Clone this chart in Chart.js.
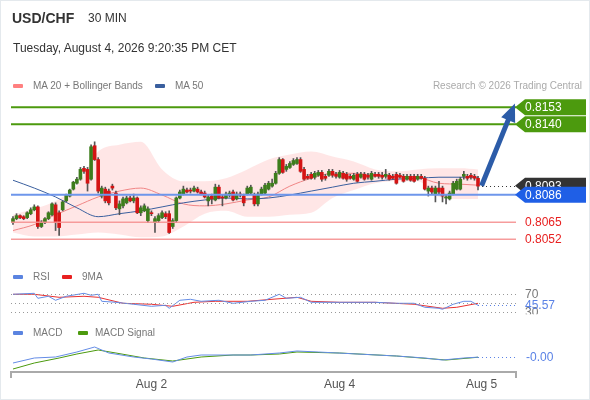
<!DOCTYPE html>
<html>
<head>
<meta charset="utf-8">
<script src="https://cdn.jsdelivr.net/npm/chart.js@4.4.1/dist/chart.umd.min.js"></script>
<style>
html, body { margin: 0; padding: 0; background: #fff; }
#wrap { position: relative; width: 590px; height: 400px; overflow: hidden; font-family: 'Liberation Sans', Arial, sans-serif; }
#frame { position: absolute; left: 0; top: 0; width: 588px; height: 398px; border: 1px solid #e4e9ed; }
canvas { position: absolute; left: 0; top: 0; }
.t { position: absolute; white-space: nowrap; }
.sw { position: absolute; width: 10px; height: 4px; border-radius: 1px; }
</style>
</head>
<body>
<div id="wrap">
  <div id="frame"></div>
  <canvas id="chart" width="590" height="400"></canvas>
  <div class="t" style="left:12px;top:10px;font-weight:bold;font-size:14px;color:#333">USD/CHF</div>
  <div class="t" style="left:88px;top:11px;font-size:12px;color:#333">30 MIN</div>
  <div class="t" style="left:13px;top:41px;font-size:12px;color:#333">Tuesday, August 4, 2026 9:20:35 PM CET</div>

  <div class="sw" style="left:13px;top:84px;background:#ff8080"></div>
  <div class="t" style="left:33px;top:80px;font-size:10px;color:#777">MA 20 + Bollinger Bands</div>
  <div class="sw" style="left:155px;top:84px;background:#3a5f9e"></div>
  <div class="t" style="left:175px;top:80px;font-size:10px;color:#777">MA 50</div>
  <div class="t" style="right:8px;top:80px;font-size:10px;color:#aaa">Research © 2026 Trading Central</div>

  <div class="sw" style="left:13px;top:275px;background:#5b84e0"></div>
  <div class="t" style="left:33px;top:271px;font-size:10px;color:#777">RSI</div>
  <div class="sw" style="left:62px;top:275px;background:#e82020"></div>
  <div class="t" style="left:82px;top:271px;font-size:10px;color:#777">9MA</div>

  <div class="sw" style="left:13px;top:331px;background:#5b84e0"></div>
  <div class="t" style="left:33px;top:327px;font-size:10px;color:#777">MACD</div>
  <div class="sw" style="left:78px;top:331px;background:#4c9a0e"></div>
  <div class="t" style="left:95px;top:327px;font-size:10px;color:#777">MACD Signal</div>
</div>
<script>
// 30 min candles, left to right
const candleOpen = [
  0.80648,0.80678,0.80701,0.80693,0.80686,0.80716,0.80746,0.80768,0.80618,0.80648,
  0.80678,0.80708,0.80784,0.80723,0.80746,0.80814,0.80851,0.80904,0.80949,0.80980,
  0.81063,0.81055,0.80980,0.81236,0.81130,0.80851,0.80904,0.80889,0.80927,0.80874,
  0.80753,0.80776,0.80799,0.80836,0.80814,0.80836,0.80723,0.80738,0.80663,0.80723,
  0.80648,0.80663,0.80686,0.80716,0.80716,0.80618,0.80663,0.80836,0.80866,0.80897,
  0.80897,0.80889,0.80904,0.80882,0.80874,0.80814,0.80851,0.80821,0.80919,0.80844,
  0.80836,0.80859,0.80882,0.80829,0.80866,0.80851,0.80866,0.80874,0.80859,0.80791,
  0.80866,0.80874,0.80904,0.80927,0.80949,0.81025,0.81130,0.81055,0.81070,0.81093,
  0.81100,0.81130,0.81055,0.81002,0.81017,0.80995,0.81010,0.81032,0.81002,0.81010,
  0.81040,0.81017,0.80995,0.81025,0.81017,0.81002,0.80980,0.81017,0.80995,0.81017,
  0.81010,0.80980,0.81017,0.81017,0.81010,0.81002,0.81010,0.81002,0.81017,0.81010,
  0.81002,0.80980,0.81002,0.81002,0.80980,0.81002,0.80987,0.80889,0.80912,0.80866,
  0.80912,0.80912,0.80836,0.80829,0.80866,0.80904,0.80904,0.81002,0.81002,0.81010,
  0.81002,0.80987
];
const candleHigh = [
  0.80693,0.80716,0.80708,0.80701,0.80731,0.80761,0.80784,0.80776,0.80663,0.80686,
  0.80731,0.80799,0.80799,0.80738,0.80814,0.80866,0.80904,0.80964,0.80995,0.81070,
  0.81078,0.81070,0.81243,0.81266,0.81145,0.80927,0.80919,0.80904,0.80942,0.80889,
  0.80814,0.80844,0.80851,0.80851,0.80866,0.80844,0.80776,0.80791,0.80768,0.80738,
  0.80693,0.80716,0.80738,0.80731,0.80738,0.80678,0.80844,0.80897,0.80927,0.80912,
  0.80912,0.80927,0.80919,0.80897,0.80889,0.80859,0.80866,0.80942,0.80934,0.80859,
  0.80882,0.80889,0.80897,0.80882,0.80882,0.80866,0.80927,0.80934,0.80874,0.80882,
  0.80919,0.80949,0.80964,0.80980,0.81040,0.81145,0.81138,0.81093,0.81115,0.81138,
  0.81145,0.81145,0.81070,0.81017,0.81032,0.81040,0.81047,0.81047,0.81017,0.81055,
  0.81055,0.81032,0.81047,0.81040,0.81032,0.81017,0.81025,0.81032,0.81032,0.81032,
  0.81025,0.81040,0.81032,0.81032,0.81032,0.81055,0.81025,0.81017,0.81032,0.81025,
  0.81017,0.81017,0.81017,0.81017,0.81017,0.81017,0.81002,0.80927,0.80927,0.80927,
  0.80964,0.80927,0.80859,0.80889,0.80964,0.80980,0.80995,0.81040,0.81017,0.81025,
  0.81017,0.81002
];
const candleLow = [
  0.80633,0.80670,0.80678,0.80670,0.80678,0.80708,0.80738,0.80603,0.80610,0.80640,
  0.80670,0.80701,0.80587,0.80550,0.80738,0.80806,0.80844,0.80897,0.80942,0.80972,
  0.81025,0.80889,0.80972,0.81123,0.80874,0.80836,0.80799,0.80784,0.80897,0.80746,
  0.80708,0.80761,0.80791,0.80806,0.80799,0.80716,0.80701,0.80731,0.80648,0.80701,
  0.80572,0.80648,0.80678,0.80678,0.80565,0.80603,0.80648,0.80829,0.80859,0.80874,
  0.80874,0.80882,0.80874,0.80859,0.80836,0.80776,0.80791,0.80814,0.80829,0.80776,
  0.80829,0.80844,0.80814,0.80821,0.80844,0.80776,0.80859,0.80866,0.80776,0.80776,
  0.80859,0.80866,0.80897,0.80919,0.80942,0.81017,0.81025,0.81040,0.81063,0.81085,
  0.81093,0.81032,0.80972,0.80980,0.80980,0.80980,0.81002,0.80964,0.80972,0.81002,
  0.80995,0.80987,0.80987,0.80980,0.80964,0.80980,0.80972,0.80957,0.80987,0.80972,
  0.80980,0.80972,0.80995,0.80987,0.80980,0.80987,0.80972,0.80980,0.80942,0.80987,
  0.80957,0.80972,0.80964,0.80957,0.80972,0.80980,0.80897,0.80851,0.80866,0.80806,
  0.80866,0.80806,0.80791,0.80821,0.80859,0.80897,0.80897,0.80980,0.80972,0.80980,
  0.80972,0.80897
];
const candleClose = [
  0.80678,0.80701,0.80686,0.80678,0.80723,0.80746,0.80768,0.80618,0.80648,0.80678,
  0.80723,0.80791,0.80648,0.80610,0.80806,0.80859,0.80897,0.80957,0.80980,0.81055,
  0.81040,0.80949,0.81228,0.81130,0.80889,0.80912,0.80814,0.80799,0.80912,0.80761,
  0.80791,0.80829,0.80836,0.80814,0.80836,0.80723,0.80761,0.80776,0.80753,0.80716,
  0.80678,0.80701,0.80723,0.80693,0.80572,0.80663,0.80836,0.80882,0.80904,0.80882,
  0.80889,0.80912,0.80882,0.80866,0.80844,0.80844,0.80829,0.80919,0.80836,0.80836,
  0.80866,0.80874,0.80821,0.80866,0.80859,0.80799,0.80912,0.80919,0.80791,0.80866,
  0.80904,0.80934,0.80949,0.80949,0.81025,0.81130,0.81032,0.81078,0.81100,0.81123,
  0.81130,0.81040,0.80980,0.80987,0.80987,0.81025,0.81032,0.80980,0.80987,0.81040,
  0.81010,0.81002,0.81032,0.80987,0.80980,0.80987,0.81010,0.80964,0.81017,0.80980,
  0.80995,0.81025,0.81002,0.81002,0.80995,0.81017,0.80980,0.80987,0.80949,0.80995,
  0.80964,0.81002,0.80972,0.80964,0.81002,0.80987,0.80904,0.80912,0.80882,0.80912,
  0.80882,0.80851,0.80844,0.80874,0.80949,0.80964,0.80980,0.81017,0.80987,0.80995,
  0.80987,0.80927
];

// moving averages and Bollinger bands, read at these candle indices
const maX     = [0,6,12,18,24,30,36,42,48,54,60,66,72,78,84,90,96,102,108,114,120,126,131];
const ma50    = [0.80972,0.80912,0.80844,0.80761,0.80693,0.80716,0.80738,0.80768,0.80799,0.80821,0.80836,0.80829,0.80836,0.80859,0.80889,0.80919,0.80949,0.80964,0.80980,0.80987,0.80995,0.80995,0.80995];
const ma20    = [0.80587,0.80633,0.80708,0.80776,0.80844,0.80889,0.80912,0.80859,0.80791,0.80776,0.80791,0.80821,0.80844,0.80927,0.80987,0.81025,0.81025,0.81010,0.81002,0.80995,0.80949,0.80942,0.80934];
const bbUpper = [0.80708,0.80753,0.80814,0.80927,0.81191,0.81243,0.81266,0.81055,0.80964,0.80964,0.80987,0.81055,0.81130,0.81168,0.81191,0.81153,0.81115,0.81055,0.81040,0.81055,0.81063,0.81063,0.81055];
const bbLower = [0.80572,0.80542,0.80542,0.80557,0.80572,0.80557,0.80535,0.80542,0.80618,0.80716,0.80738,0.80693,0.80693,0.80708,0.80723,0.80836,0.80897,0.80949,0.80964,0.80964,0.80844,0.80829,0.80829];

// RSI with its 9 period average
const rsiX   = [0,6,7,10,12,15,20,22,24,25,29,34,39,43,44,47,50,53,58,62,67,71,75,77,81,84,92,97,102,108,113,116,120,121,124,127,129,131];
const rsiVal = [70,72.2,61.1,65.6,56.7,65.6,72.2,67.8,70,54.4,52.2,47.8,43.3,45.6,38.9,56.7,58.9,54.4,56.7,50,54.4,56.7,70,61.1,63.3,52.2,52.2,52.2,52.2,50,50,41.1,38.9,36.7,47.8,54.4,54.4,45.57];
const rsiMaX = [0,6,13,20,24,31,39,45,51,57,66,80,84,92,102,113,121,125,131];
const rsiMa  = [70,70,63.3,65.6,63.3,50,47.8,43.3,52.2,54.4,54.4,63.3,54.4,52.2,52.2,47.8,38.9,41.1,50];
const rsiLevels = [70, 50, 30];

// MACD and signal
const macdX   = [0,6,12,18,23,27,34,39,45,49,53,62,67,75,80,86,97,108,116,121,127,131];
const macdVal = [-0.00012,-0.00002,0,0.0001,0.0002,0.00008,0,-0.00004,-0.0001,0,0.00004,0.00004,0.00004,0.00008,0.00012,0.0001,0.00006,0.00002,-0.00002,-0.00006,-0.00002,-0.000003];
const signalX   = [0,6,13,18,24,29,37,45,53,62,67,75,80,92,108,122,131];
const signalVal = [-0.00024,-0.00012,-0.00002,0.00006,0.00014,0.00008,-0.00002,-0.00008,0,0.00004,0.00004,0.00006,0.0001,0.00008,0.00002,-0.00006,-0.000005];

// levels
const resistance = [0.8153, 0.8140];
const pivot = 0.8086;
const supports = [0.8065, 0.8052];
const lastPrice = 0.8093;
const arrowTarget = 0.8156;
const arrowEndIndex = 141.4;

// x axis
const tickIdx = [39, 92, 132];
const tickLabels = ['Aug 2', 'Aug 4', 'Aug 5'];

const GREEN = '#4c9a0e';
const BLUE_TAG = '#1f5fe6';
const SUPPORT_RED = '#e82020';

function pts(xs, ys) { return xs.map((x, i) => ({ x: x, y: ys[i] })); }

function hline(ctx, x0, x1, y, color, w) {
  ctx.beginPath();
  ctx.strokeStyle = color;
  ctx.lineWidth = w;
  ctx.setLineDash([]);
  ctx.moveTo(x0, y);
  ctx.lineTo(x1, y);
  ctx.stroke();
}

function dotted(ctx, x0, x1, y, color) {
  ctx.beginPath();
  ctx.strokeStyle = color;
  ctx.lineWidth = 1;
  ctx.setLineDash([1, 3]);
  ctx.moveTo(x0, Math.round(y) + 0.5);
  ctx.lineTo(x1, Math.round(y) + 0.5);
  ctx.stroke();
  ctx.setLineDash([]);
}

function tag(ctx, x, y, color, text) {
  const h = 16, w = 71;
  ctx.beginPath();
  ctx.fillStyle = color;
  ctx.moveTo(x, y);
  ctx.lineTo(x + 10, y - h / 2);
  ctx.lineTo(x + w, y - h / 2);
  ctx.lineTo(x + w, y + h / 2);
  ctx.lineTo(x + 10, y + h / 2);
  ctx.closePath();
  ctx.fill();
  ctx.fillStyle = '#fff';
  ctx.font = '12px "Liberation Sans", Arial, sans-serif';
  ctx.textBaseline = 'middle';
  ctx.textAlign = 'left';
  ctx.fillText(text, x + 10, y + 0.5);
}

function label(ctx, x, y, color, text) {
  ctx.fillStyle = color;
  ctx.font = '12px "Liberation Sans", Arial, sans-serif';
  ctx.textBaseline = 'middle';
  ctx.textAlign = 'left';
  ctx.fillText(text, x, y + 0.5);
}

const overlay = {
  id: 'overlay',
  afterDatasetsDraw(chart) {
    const { ctx, chartArea: a } = chart;
    const x = chart.scales.x, price = chart.scales.yPrice, rsi = chart.scales.yRsi, macd = chart.scales.yMacd;
    ctx.save();
    resistance.forEach(v => hline(ctx, a.left, a.right, price.getPixelForValue(v), GREEN, 2));
    hline(ctx, a.left, a.right, price.getPixelForValue(pivot), 'rgb(110,150,235)', 2);
    supports.forEach(v => hline(ctx, a.left, a.right, price.getPixelForValue(v), 'rgba(245,145,145,0.9)', 1.5));
    rsiLevels.forEach(v => dotted(ctx, a.left, a.right, rsi.getPixelForValue(v), '#999'));

    const last = candleClose.length - 1;
    dotted(ctx, x.getPixelForValue(last) + 4, a.right, price.getPixelForValue(lastPrice), '#333');
    dotted(ctx, x.getPixelForValue(rsiX[rsiX.length - 1]), a.right, rsi.getPixelForValue(rsiVal[rsiVal.length - 1]), 'rgb(90,130,230)');
    dotted(ctx, x.getPixelForValue(macdX[macdX.length - 1]), a.right, macd.getPixelForValue(macdVal[macdVal.length - 1]), 'rgb(90,130,230)');

    // forecast arrow
    const x0 = x.getPixelForValue(last + 1), y0 = price.getPixelForValue(lastPrice);
    const x1 = x.getPixelForValue(arrowEndIndex), y1 = price.getPixelForValue(arrowTarget);
    const ang = Math.atan2(y1 - y0, x1 - x0);
    const c = Math.cos(ang), s = Math.sin(ang);
    ctx.strokeStyle = '#2c5ca8';
    ctx.fillStyle = '#2c5ca8';
    ctx.lineWidth = 5;
    ctx.lineCap = 'butt';
    ctx.beginPath();
    ctx.moveTo(x0, y0);
    ctx.lineTo(x1 - c * 14, y1 - s * 14);
    ctx.stroke();
    ctx.beginPath();
    ctx.moveTo(x1, y1);
    ctx.lineTo(x1 - c * 18 - s * 7.5, y1 - s * 18 + c * 7.5);
    ctx.lineTo(x1 - c * 18 + s * 7.5, y1 - s * 18 - c * 7.5);
    ctx.closePath();
    ctx.fill();
    ctx.restore();
  },
  afterDraw(chart) {
    const { ctx, chartArea: a } = chart;
    const price = chart.scales.yPrice, rsi = chart.scales.yRsi, macd = chart.scales.yMacd;
    ctx.save();
    // end ticks of the time axis
    ctx.strokeStyle = '#aaa';
    ctx.lineWidth = 2;
    [a.left, a.right].forEach(px => {
      ctx.beginPath();
      ctx.moveTo(px, a.bottom);
      ctx.lineTo(px, a.bottom + 6);
      ctx.stroke();
    });
    resistance.forEach(v => tag(ctx, a.right - 1, price.getPixelForValue(v), GREEN, v.toFixed(4)));
    tag(ctx, a.right - 1, price.getPixelForValue(lastPrice), '#333', lastPrice.toFixed(4));
    tag(ctx, a.right - 1, price.getPixelForValue(pivot), BLUE_TAG, pivot.toFixed(4));
    supports.forEach(v => label(ctx, a.right + 9, price.getPixelForValue(v), SUPPORT_RED, v.toFixed(4)));
    label(ctx, a.right + 9, rsi.getPixelForValue(70), '#777', '70');
    // the 30 label is cut by the panel edge
    ctx.save();
    ctx.beginPath();
    ctx.rect(a.right, 0, 80, rsi.getPixelForValue(30) + 2);
    ctx.clip();
    label(ctx, a.right + 9, rsi.getPixelForValue(30), '#777', '30');
    ctx.restore();
    const rLast = rsiVal[rsiVal.length - 1];
    label(ctx, a.right + 9, rsi.getPixelForValue(rLast), 'rgb(90,130,230)', rLast.toFixed(2));
    const mLast = macdVal[macdVal.length - 1];
    label(ctx, a.right + 10, macd.getPixelForValue(mLast), 'rgb(90,130,230)', mLast.toFixed(2));
    ctx.restore();
  }
};

const bodyColors = candleClose.map((c, i) => c >= candleOpen[i] ? '#3d7d1c' : '#d41414');
const lineBase = { type: 'line', pointRadius: 0, borderWidth: 1, fill: false };

new Chart(document.getElementById('chart'), {
  type: 'line',
  data: {
    datasets: [
      { type: 'bar', label: 'body', yAxisID: 'yPrice', grouped: false, barThickness: 3, minBarLength: 1,
        data: candleOpen.map((o, i) => ({ x: i, y: [o, candleClose[i]] })),
        backgroundColor: bodyColors, borderWidth: 0 },
      { type: 'bar', label: 'wick', yAxisID: 'yPrice', grouped: false, barThickness: 1,
        data: candleLow.map((l, i) => ({ x: i, y: [l, candleHigh[i]] })),
        backgroundColor: '#555', borderWidth: 0 },
      { ...lineBase, label: 'MA 50', yAxisID: 'yPrice', data: pts(maX, ma50), borderColor: '#3a5f9e', cubicInterpolationMode: 'monotone' },
      { ...lineBase, label: 'MA 20', yAxisID: 'yPrice', data: pts(maX, ma20), borderColor: '#f08585', cubicInterpolationMode: 'monotone' },
      { ...lineBase, label: 'BB upper', yAxisID: 'yPrice', data: pts(maX, bbUpper), borderWidth: 0, borderColor: 'rgba(0,0,0,0)',
        fill: '+1', backgroundColor: 'rgba(255,200,200,0.45)', cubicInterpolationMode: 'monotone' },
      { ...lineBase, label: 'BB lower', yAxisID: 'yPrice', data: pts(maX, bbLower), borderWidth: 0, borderColor: 'rgba(0,0,0,0)', cubicInterpolationMode: 'monotone' },
      { ...lineBase, label: 'RSI', yAxisID: 'yRsi', data: pts(rsiX, rsiVal), borderColor: 'rgb(100,140,230)' },
      { ...lineBase, label: '9MA', yAxisID: 'yRsi', data: pts(rsiMaX, rsiMa), borderColor: '#e83030' },
      { ...lineBase, label: 'MACD', yAxisID: 'yMacd', data: pts(macdX, macdVal), borderColor: 'rgb(100,140,230)' },
      { ...lineBase, label: 'MACD Signal', yAxisID: 'yMacd', data: pts(signalX, signalVal), borderColor: '#4c9a0e' }
    ]
  },
  options: {
    responsive: false,
    animation: false,
    layout: { padding: { top: 90, left: 11, right: 74, bottom: 4 } },
    plugins: { legend: { display: false }, tooltip: { enabled: false } },
    scales: {
      x: {
        type: 'linear', min: -0.56, max: 141.7, offset: false,
        grid: { display: false, drawTicks: false },
        border: { display: true, color: '#aaa', width: 2 },
        afterBuildTicks: s => { s.ticks = tickIdx.map(v => ({ value: v })); },
        afterFit: s => { s.height = 24; },
        ticks: {
          autoSkip: false, maxRotation: 0, padding: 5, color: '#555',
          font: { size: 12, family: '"Liberation Sans", Arial, sans-serif' },
          callback: v => tickLabels[tickIdx.indexOf(v)] || ''
        }
      },
      yPrice: { axis: 'y', position: 'left', type: 'linear', display: false, min: 0.795048, max: 0.816624 },
      yRsi: { axis: 'y', position: 'left', type: 'linear', display: false, min: -102.7, max: 524.0 },
      yMacd: { axis: 'y', position: 'left', type: 'linear', display: false, min: -0.0003, max: 0.00534 }
    }
  },
  plugins: [overlay]
});
</script>
</body>
</html>
